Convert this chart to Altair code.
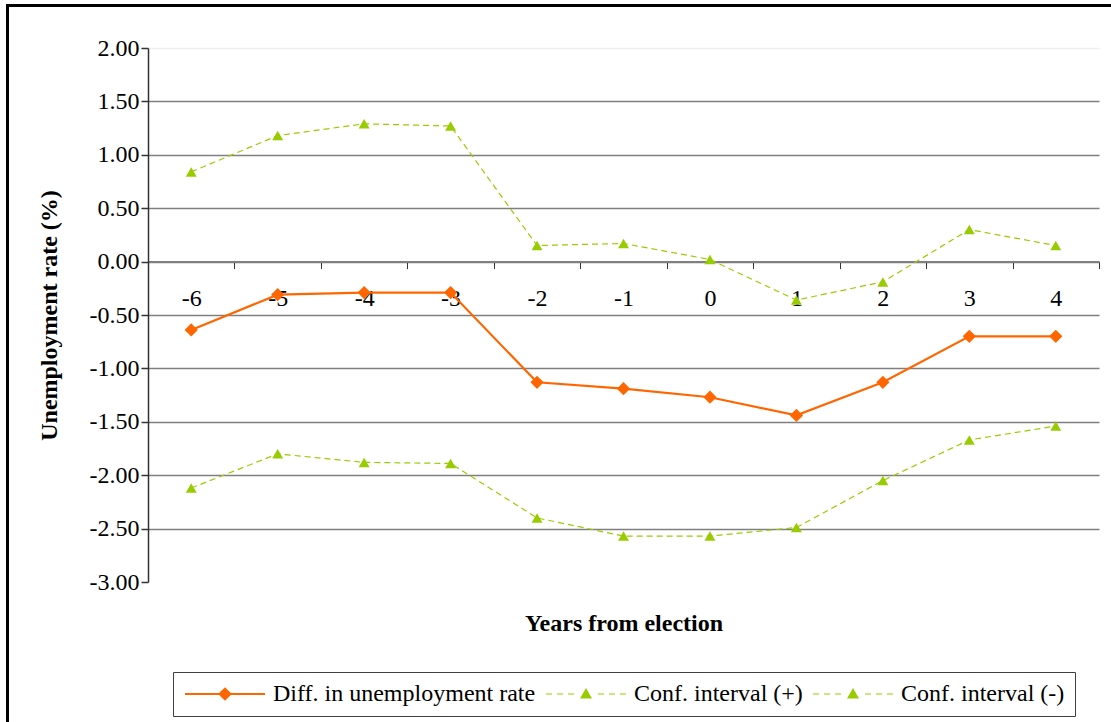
import altair as alt
import pandas as pd

# ---------------- data ----------------
years = [-6, -5, -4, -3, -2, -1, 0, 1, 2, 3, 4]
diff = [-0.64, -0.31, -0.29, -0.29, -1.13, -1.19, -1.27, -1.44, -1.13, -0.70, -0.70]
ci_upper = [0.84, 1.18, 1.29, 1.27, 0.15, 0.17, 0.02, -0.36, -0.19, 0.30, 0.15]
ci_lower = [-2.12, -1.80, -1.88, -1.89, -2.40, -2.57, -2.57, -2.49, -2.05, -1.67, -1.54]
series_names = ["Diff. in unemployment rate", "Conf. interval (+)", "Conf. interval (-)"]
y_ticks = [-3.0, -2.5, -2.0, -1.5, -1.0, -0.5, 0.0, 0.5, 1.0, 1.5, 2.0]
x_bounds = [-6.5, -5.5, -4.5, -3.5, -2.5, -1.5, -0.5, 0.5, 1.5, 2.5, 3.5, 4.5]

ORANGE = "#FF6600"
GREEN = "#99CC00"
FONT = "Liberation Serif"
FS = 24

rows = []
for name, vals in zip(series_names, [diff, ci_upper, ci_lower]):
    for yr, v in zip(years, vals):
        rows.append({"year": yr, "value": v, "series": name})
df = pd.DataFrame(rows)

# ---------------- layout ----------------
W, H = 951, 534
PAD_L, PAD_T, PAD_R, PAD_B = 148, 48, 12, 140
zero_offset = -H * (0 - (-3)) / 5.0

x_scale = alt.Scale(domain=[-6.5, 4.5], nice=False, zero=False)
y_scale = alt.Scale(domain=[-3, 2], nice=False, zero=False)

x_axis = alt.Axis(
    values=x_bounds, offset=zero_offset, title="Years from election", grid=False,
    domainColor="#808080", domainWidth=2, tickColor="#333333", tickSize=7, tickWidth=1,
    labelOffset=W / 11 / 2,
    labelExpr="datum.value < 4.4 ? '' + (datum.value + 0.5) : ''",
    labelFlush=False, labelOverlap=False, labelPadding=18,
    labelFont=FONT, labelFontSize=FS, labelColor="black",
    titleFont=FONT, titleFontSize=FS, titleFontWeight="bold", titleColor="black",
    titleY=362, titleBaseline="middle",
)
y_axis = alt.Axis(
    values=y_ticks, title="Unemployment rate (%)",
    labelExpr="replace(format(datum.value, '.2f'), '\u2212', '-')",
    grid=True, gridColor="#7f7f7f", gridWidth=1.5,
    gridOpacity={"condition": [{"test": "datum.value >= 2", "value": 0.12},
                               {"test": "datum.value <= -3", "value": 0}], "value": 1},
    domainColor="#333333", domainWidth=1.5, tickColor="#333333", tickSize=7, tickWidth=1.5,
    labelPadding=2, labelFont=FONT, labelFontSize=FS, labelColor="black",
    titleFont=FONT, titleFontSize=FS, titleFontWeight="bold", titleColor="black",
    titleX=-99, titleBaseline="middle", titleAngle=-90,
)

X = alt.X("year:Q", scale=x_scale, axis=x_axis)
Y = alt.Y("value:Q", scale=y_scale, axis=y_axis)

def sub(name):
    return alt.Chart(df).transform_filter(alt.datum.series == name)

main_line = sub(series_names[0]).mark_line(color=ORANGE, strokeWidth=2.2).encode(x=X, y=Y)
main_pts = sub(series_names[0]).mark_point(shape="diamond", filled=True, size=175,
                                           color=ORANGE, opacity=1).encode(x=X, y=Y)
layers = [main_line]
for nm in series_names[1:]:
    layers.append(sub(nm).mark_line(color=GREEN, strokeWidth=1.2, strokeDash=[6, 4]).encode(x=X, y=Y))
    layers.append(sub(nm).mark_point(shape="triangle-up", filled=True, size=120,
                                     color=GREEN, opacity=1).encode(x=X, y=Y))
layers.append(main_pts)

# ---------------- legend (symbols: line + marker as one path) ----------------
def rect(x0, x1, h):
    return f"M{x0},{-h}L{x1},{-h}L{x1},{h}L{x0},{h}Z"

orange_path = rect(-1, 7, 0.11) + "M3,-0.68L3.68,0L3,0.68L2.32,0Z"
green_path = (rect(-1, -0.4, 0.06) + rect(0.1, 0.7, 0.06) + rect(1.2, 1.8, 0.06)
              + "M3,-0.6L3.6,0.45L2.4,0.45Z"
              + rect(4.2, 4.8, 0.06) + rect(5.3, 5.9, 0.06) + rect(6.4, 7.0, 0.06))

leg = alt.Legend(
    orient="none", legendX=25, legendY=624, direction="horizontal", title=None,
    symbolSize=400, symbolStrokeWidth=0, symbolOpacity=1, labelOffset=66,
    columnPadding=8, padding=10, strokeColor="#404040", fillColor="white",
    labelFont=FONT, labelFontSize=FS, labelColor="black", labelLimit=0,
)
legend_layer = alt.Chart(df).mark_point(filled=True, opacity=0).encode(
    x=X, y=Y,
    color=alt.Color("series:N", sort=None,
                    scale=alt.Scale(domain=series_names, range=[ORANGE, GREEN, GREEN]), legend=leg),
    shape=alt.Shape("series:N", sort=None,
                    scale=alt.Scale(domain=series_names, range=[orange_path, green_path, green_path]),
                    legend=leg),
)
layers.append(legend_layer)

# ---------------- outer frame (left and top edges) ----------------
one = pd.DataFrame({"k": [0]})
frame_left = alt.Chart(one).mark_rule(color="black", strokeWidth=3).encode(
    x=alt.value(7.5 - PAD_L), y=alt.value(5.5 - PAD_T), y2=alt.value(H + PAD_B))
frame_top = alt.Chart(one).mark_rule(color="black", strokeWidth=3).encode(
    y=alt.value(5.5 - PAD_T), x=alt.value(6 - PAD_L), x2=alt.value(W + PAD_R))
layers += [frame_left, frame_top]

chart = alt.layer(*layers).properties(
    width=W, height=H,
    padding={"left": PAD_L, "top": PAD_T, "right": PAD_R, "bottom": PAD_B},
    autosize=alt.AutoSizeParams(type="none"),
    background="white",
).configure(font=FONT).configure_view(stroke=None).configure_axis(
    labelFont=FONT, titleFont=FONT, labelFontSize=FS, titleFontSize=FS
).configure_legend(labelFont=FONT, labelFontSize=FS)

chart.save("out.html", embed_options={"renderer": "svg", "actions": False})
